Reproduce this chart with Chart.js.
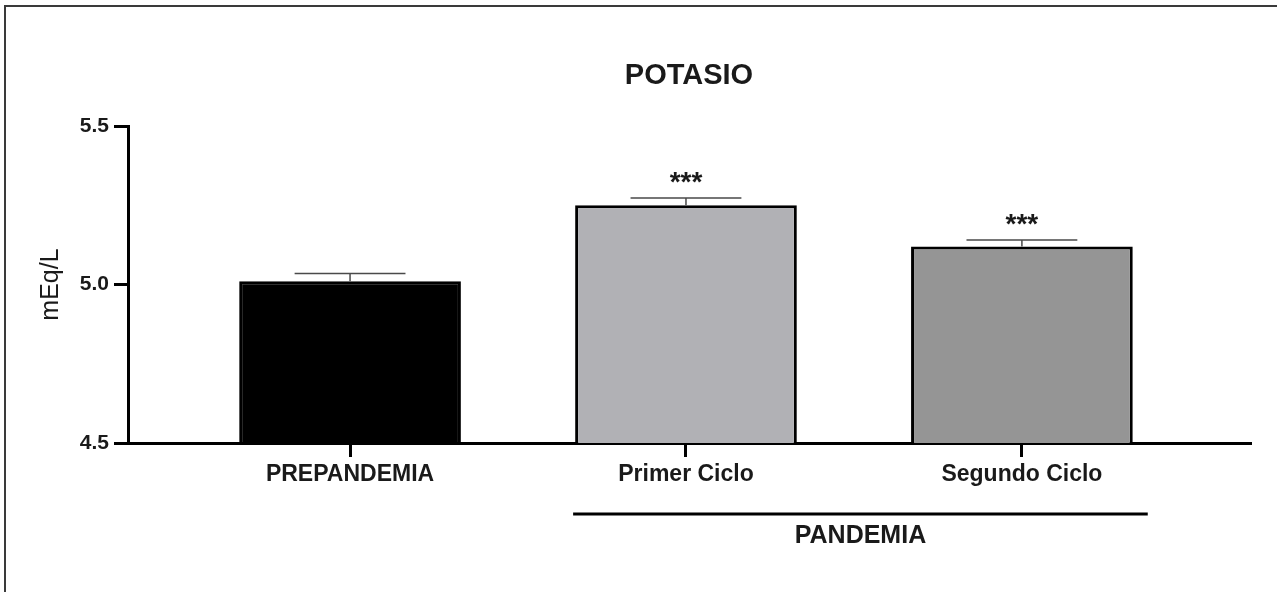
<!DOCTYPE html>
<html>
<head>
<meta charset="utf-8">
<script src="https://cdn.jsdelivr.net/npm/chart.js@4.4.1/dist/chart.umd.min.js"></script>
<style>
  html, body { margin: 0; padding: 0; background: #fff; }
  #wrap { position: relative; width: 1277px; height: 592px; overflow: hidden; }
  #frame { position: absolute; left: 4px; top: 5px; right: -4px; bottom: -4px;
           border-left: 2px solid #3a3a3a; border-top: 2px solid #3a3a3a; pointer-events: none; }
  canvas { display: block; }
</style>
</head>
<body>
<div id="wrap">
  <canvas id="chart" width="1277" height="592"></canvas>
  <div id="frame"></div>
</div>
<script>
// Serum potassium, mean ± SEM (mEq/L)
const categories   = ['PREPANDEMIA', 'Primer Ciclo', 'Segundo Ciclo'];
const means        = [5.01, 5.25, 5.12];
const sem          = [0.025, 0.023, 0.020];
const significance = ['', '***', '***'];
const barColors    = ['#000000', '#b1b1b5', '#959595'];
const groupLabel   = 'PANDEMIA';
const groupMembers = [1, 2];
const yMin = 4.5, yMax = 5.5, yStep = 0.5;

const FONT = "'Liberation Sans', Arial, Helvetica, sans-serif";
const INK = '#1a1a1a';

// Error bars (upper whisker only) and significance marks above each bar
const errorBars = {
  id: 'errorBars',
  afterDatasetsDraw(chart) {
    const { ctx } = chart;
    const y = chart.scales.y;
    const meta = chart.getDatasetMeta(0);
    ctx.save();
    meta.data.forEach((bar, i) => {
      const top = y.getPixelForValue(means[i] + sem[i]);
      const half = bar.width / 4;
      ctx.strokeStyle = '#4a4a4a';
      ctx.lineWidth = 1.5;
      ctx.beginPath();
      ctx.moveTo(bar.x, bar.y);
      ctx.lineTo(bar.x, top);
      ctx.moveTo(bar.x - half, top);
      ctx.lineTo(bar.x + half, top);
      ctx.stroke();
      if (significance[i]) {
        ctx.fillStyle = INK;
        ctx.font = 'bold 28px ' + FONT;
        ctx.textAlign = 'center';
        ctx.textBaseline = 'alphabetic';
        ctx.fillText(significance[i], bar.x, top - 7);
      }
    });
    ctx.restore();
  }
};

// Bracket line and label grouping the pandemic cycles under the x axis
const groupBracket = {
  id: 'groupBracket',
  afterDraw(chart) {
    const { ctx, chartArea } = chart;
    const meta = chart.getDatasetMeta(0);
    const first = meta.data[groupMembers[0]];
    const last = meta.data[groupMembers[groupMembers.length - 1]];
    const x0 = first.x - first.width / 2 - 2;
    const x1 = last.x + last.width / 2 + 15;
    const yLine = chartArea.bottom + 71;
    ctx.save();
    ctx.strokeStyle = '#000';
    ctx.lineWidth = 3;
    ctx.beginPath();
    ctx.moveTo(x0, yLine);
    ctx.lineTo(x1, yLine);
    ctx.stroke();
    ctx.fillStyle = INK;
    ctx.font = 'bold 25px ' + FONT;
    ctx.textAlign = 'center';
    ctx.textBaseline = 'middle';
    ctx.fillText(groupLabel, (x0 + x1) / 2, yLine + 22);
    ctx.restore();
  }
};

new Chart(document.getElementById('chart'), {
  type: 'bar',
  data: {
    datasets: [{
      data: means.map((v, i) => ({ x: i, y: v })),
      backgroundColor: barColors,
      borderColor: '#000',
      borderWidth: 3,
      borderSkipped: 'bottom',
      barPercentage: 0.66,
      categoryPercentage: 1
    }]
  },
  options: {
    responsive: false,
    animation: false,
    layout: { padding: { left: 0, right: 27, top: 0, bottom: 0 } },
    plugins: {
      legend: { display: false },
      tooltip: { enabled: false },
      title: {
        display: true,
        text: 'POTASIO',
        color: INK,
        fullSize: false,
        font: { family: FONT, size: 29, weight: 'bold' },
        padding: { top: 58.6, bottom: 32.6 }
      }
    },
    scales: {
      x: {
        type: 'linear',
        offset: false,
        min: -0.661,
        max: 2.679,
        afterBuildTicks(scale) {
          scale.ticks = categories.map((_, i) => ({ value: i }));
        },
        afterFit(scale) { scale.height = 149; },
        border: { display: true, color: '#000', width: 3 },
        grid: { display: true, offset: false, drawOnChartArea: false, drawTicks: true, tickLength: 14, color: '#000', lineWidth: 3 },
        ticks: {
          autoSkip: false, maxRotation: 0, padding: 4,
          color: INK,
          font: { family: FONT, size: 23, weight: 'bold' },
          callback: (v) => categories[v] ?? ''
        }
      },
      y: {
        min: yMin,
        max: yMax,
        afterFit(scale) { scale.width = 128; },
        border: { display: true, color: '#000', width: 3 },
        grid: { display: true, drawOnChartArea: false, drawTicks: true, tickLength: 14, color: '#000', lineWidth: 3 },
        ticks: {
          stepSize: yStep, padding: 5,
          color: INK,
          font: { family: FONT, size: 21, weight: 'bold' },
          callback: (v) => Number(v).toFixed(1)
        },
        title: {
          display: true,
          text: 'mEq/L',
          color: INK,
          font: { family: FONT, size: 25, weight: 'normal' },
          padding: { top: 36, bottom: 0 }
        }
      }
    }
  },
  plugins: [errorBars, groupBracket]
});
</script>
</body>
</html>
